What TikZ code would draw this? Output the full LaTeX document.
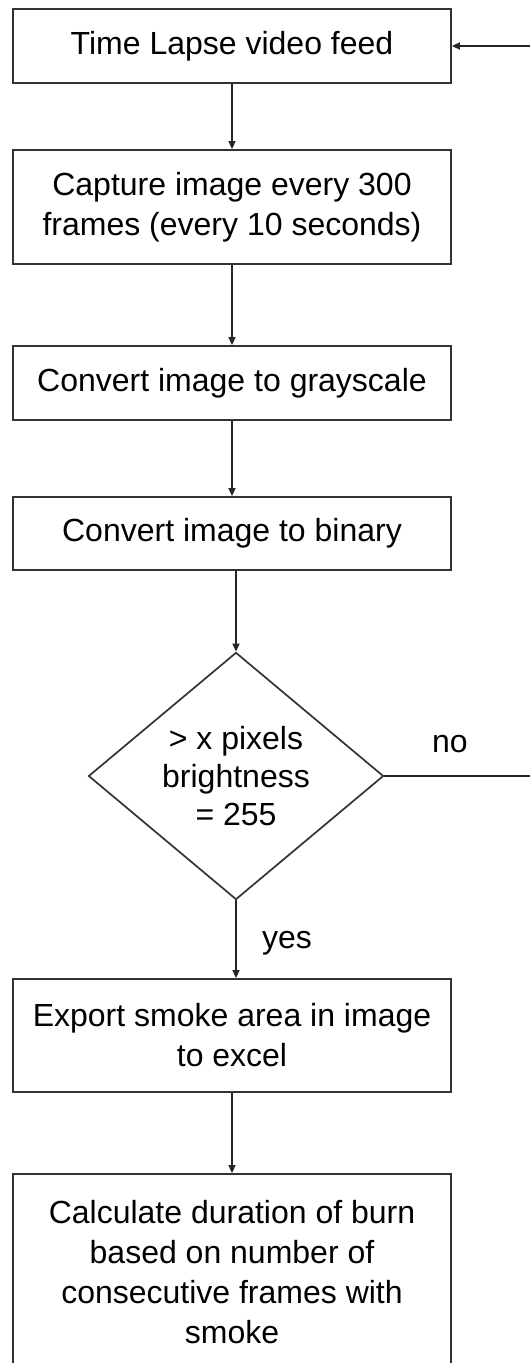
\documentclass[tikz,border=0pt]{standalone}
\usepackage{fontspec}
\setmainfont{Liberation Sans}
\usetikzlibrary{arrows.meta,shapes.geometric}
\begin{document}
\begin{tikzpicture}[x=1pt,y=-1pt,
  stepbox/.style={draw=black!80,line width=1.8pt,rectangle,minimum width=438pt,inner sep=0pt,align=center,font=\fontsize{32}{40}\selectfont},
  decision/.style={draw=black!80,line width=1.7pt,diamond,minimum width=295pt,minimum height=243pt,inner sep=0pt,align=center,font=\fontsize{32}{38}\selectfont},
  flow/.style={draw=black!85,line width=1.5pt,-{Triangle[length=8pt,width=7pt]}},
  plain/.style={draw=black!85,line width=1.5pt},
  lbl/.style={font=\fontsize{32}{38}\selectfont,inner sep=0pt,anchor=base}]
\useasboundingbox (0,0) rectangle (530,1363);
\clip (0,0) rectangle (530,1363);
\fill[white] (0,0) rectangle (530,1363);
\node[stepbox,minimum height=74pt] (b1) at (232,46) {Time Lapse video feed};
\node[stepbox,minimum height=114pt] (b2) at (232,207) {Capture image every 300\\frames (every 10 seconds)};
\node[stepbox,minimum height=74pt] (b3) at (232,383) {Convert image to grayscale};
\node[stepbox,minimum height=73pt] (b4) at (232,533.5) {Convert image to binary};
\node[decision] (dia) at (236,776) {> x pixels\\brightness\\= 255};
\node[stepbox,minimum height=113pt] (b5) at (232,1035.5) {Export smoke area in image\\to excel};
\node[stepbox,minimum height=196pt] (b6) at (232,1272) {Calculate duration of burn\\based on number of\\consecutive frames with\\smoke};
\coordinate (r1) at (530,46);
\coordinate (r2) at (530,778);
\node[lbl] (no) at (450,752) {no};
\node[lbl] (yes) at (287,948) {yes};
\draw[flow] (b1) -- (b2);
\draw[flow] (b2) -- (b3);
\draw[flow] (b3) -- (b4);
\draw[flow] (b4.south -| dia.north) -- (dia.north);
\draw[flow] (dia.south) -- (b5.north -| dia.south);
\draw[flow] (b5) -- (b6);
\draw[flow] (r1) -- (b1.east);
\draw[plain] (dia.east) -- (dia.east -| r2);
\end{tikzpicture}
\end{document}
